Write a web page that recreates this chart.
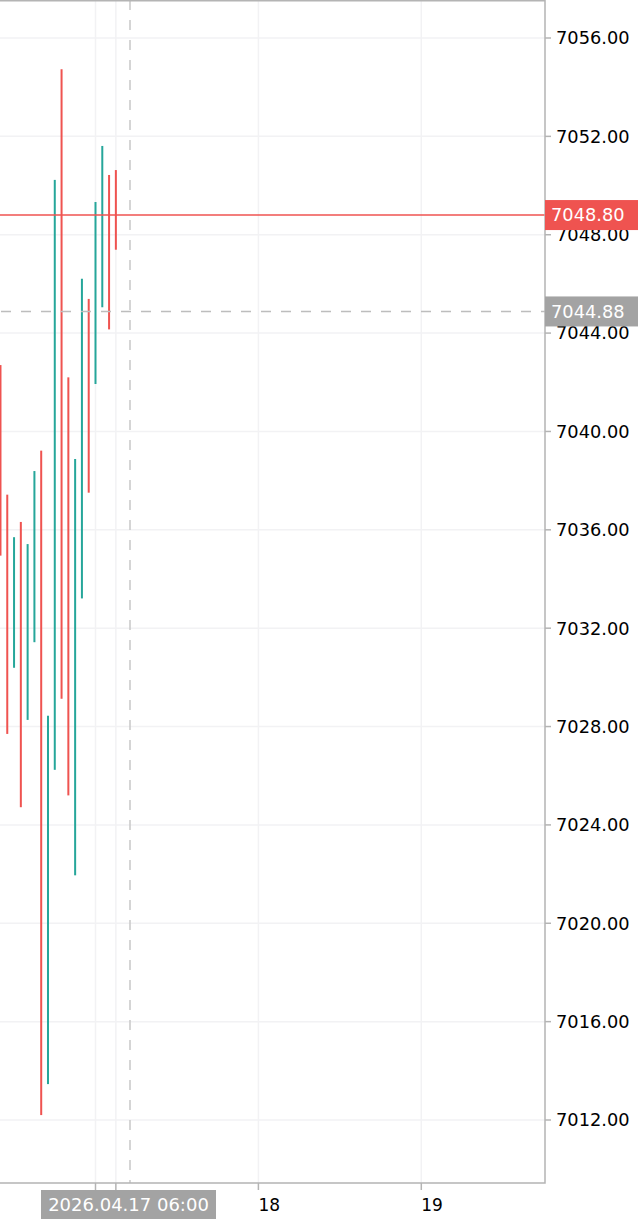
<!DOCTYPE html>
<html>
<head>
<meta charset="utf-8">
<script src="https://cdn.jsdelivr.net/npm/d3@7"></script>
<style>
  body { margin: 0; background: #fff; }
  svg { display: block; }
  text { font-family: 'DejaVu Sans', sans-serif; }
</style>
</head>
<body>
<div id="chart"></div>
<script>
// hourly bars, only the low-high range is drawn
const times = [
  '2026-04-16 10:00', '2026-04-16 11:00', '2026-04-16 12:00', '2026-04-16 13:00',
  '2026-04-16 14:00', '2026-04-16 15:00', '2026-04-16 16:00', '2026-04-16 17:00',
  '2026-04-16 18:00', '2026-04-16 19:00', '2026-04-16 20:00', '2026-04-16 21:00',
  '2026-04-16 22:00', '2026-04-16 23:00', '2026-04-17 00:00', '2026-04-17 01:00',
  '2026-04-17 02:00', '2026-04-17 03:00'
]
const highs = [7042.70, 7037.43, 7035.70, 7036.32, 7035.42, 7038.39, 7039.22, 7028.44, 7050.23,
  7054.73, 7042.20, 7038.88, 7046.21, 7045.39, 7049.33, 7051.61, 7050.43, 7050.63]
const lows = [7034.95, 7027.70, 7030.39, 7024.72, 7028.27, 7031.43, 7012.20, 7013.46, 7026.24,
  7029.13, 7025.20, 7021.95, 7033.21, 7037.51, 7041.93, 7045.05, 7044.15, 7047.39]
const dirs = ['down', 'down', 'up', 'down', 'up', 'up', 'down', 'up', 'up',
  'down', 'down', 'up', 'up', 'down', 'up', 'up', 'down', 'down']

const priceTicks = [7012, 7016, 7020, 7024, 7028, 7032, 7036, 7040, 7044, 7048, 7052, 7056]
// the first two ticks sit under the crosshair time label, so they get no text
const timeTicks = ['2026-04-17 00:00', '2026-04-17 03:00', '2026-04-18 00:00', '2026-04-19 00:00']
const timeTickLabels = ['', '', '18', '19']

const lastPrice = 7048.80
const crossPrice = 7044.88
const crossTime = '2026-04-17 05:05'
const crossTimeLabel = '2026.04.17 06:00'

const width = 640
const height = 1224
const plotRight = 545
const plotBottom = 1183

const parseTime = d3.timeParse('%Y-%m-%d %H:%M')

const xScale = d3
  .scaleTime()
  .domain([parseTime('2026-04-17 00:00'), parseTime('2026-04-19 00:00')])
  .range([95.5, 421.3])

const yScale = d3
  .scaleLinear()
  .domain([7012, 7056])
  .range([1120, 38])

const svg = d3
  .select('#chart')
  .append('svg')
  .attr('width', width)
  .attr('height', height)

svg
  .append('clipPath')
  .attr('id', 'plot-clip')
  .append('rect')
  .attr('x', 0)
  .attr('y', 0)
  .attr('width', plotRight)
  .attr('height', plotBottom)

const plot = svg.append('g').attr('clip-path', 'url(#plot-clip)')

// grid
plot
  .selectAll('.hgrid')
  .data(priceTicks)
  .enter()
  .append('line')
  .attr('class', 'hgrid')
  .attr('x1', 0)
  .attr('x2', plotRight)
  .attr('y1', d => yScale(d))
  .attr('y2', d => yScale(d))
  .attr('stroke', '#f2f2f4')
  .attr('stroke-width', 1.5)

plot
  .selectAll('.vgrid')
  .data(timeTicks)
  .enter()
  .append('line')
  .attr('class', 'vgrid')
  .attr('x1', d => xScale(parseTime(d)))
  .attr('x2', d => xScale(parseTime(d)))
  .attr('y1', 0)
  .attr('y2', plotBottom)
  .attr('stroke', '#f2f2f4')
  .attr('stroke-width', 1.5)

// bars
const bars = times.map((t, i) => ({ time: parseTime(t), high: highs[i], low: lows[i], dir: dirs[i] }))

plot
  .selectAll('.bar')
  .data(bars)
  .enter()
  .append('rect')
  .attr('class', 'bar')
  .attr('x', d => xScale(d.time) - 1)
  .attr('width', 2)
  .attr('y', d => yScale(d.high))
  .attr('height', d => yScale(d.low) - yScale(d.high))
  .attr('fill', d => (d.dir === 'up' ? '#26a69a' : '#ef5350'))

// last price line
plot
  .append('line')
  .attr('x1', 0)
  .attr('x2', plotRight)
  .attr('y1', yScale(lastPrice))
  .attr('y2', yScale(lastPrice))
  .attr('stroke', '#ef5350')
  .attr('stroke-width', 1.5)

// crosshair
const cx = xScale(parseTime(crossTime))
plot
  .append('line')
  .attr('x1', 0)
  .attr('x2', plotRight)
  .attr('y1', yScale(crossPrice))
  .attr('y2', yScale(crossPrice))
  .attr('stroke', '#bdbdbd')
  .attr('stroke-width', 1.5)
  .attr('stroke-dasharray', '10,10')
  .attr('stroke-dashoffset', -1)

plot
  .append('line')
  .attr('x1', cx)
  .attr('x2', cx)
  .attr('y1', 0)
  .attr('y2', plotBottom)
  .attr('stroke', '#c8c8c8')
  .attr('stroke-width', 1.5)
  .attr('stroke-dasharray', '10,10')

// frame
svg
  .append('path')
  .attr('d', `M0,0.75H${plotRight}V${plotBottom}H0`)
  .attr('fill', 'none')
  .attr('stroke', '#b4b4b4')
  .attr('stroke-width', 1.5)

// price axis
const yAxis = svg.append('g').attr('class', 'y-axis')
yAxis
  .selectAll('.ytick')
  .data(priceTicks)
  .enter()
  .append('line')
  .attr('x1', plotRight)
  .attr('x2', plotRight + 6)
  .attr('y1', d => yScale(d))
  .attr('y2', d => yScale(d))
  .attr('stroke', '#b4b4b4')
  .attr('stroke-width', 1.5)

yAxis
  .selectAll('.ylabel')
  .data(priceTicks)
  .enter()
  .append('text')
  .attr('x', 556)
  .attr('y', d => yScale(d))
  .attr('dy', '0.36em')
  .attr('font-size', 17.8)
  .attr('fill', '#000')
  .text(d => d.toFixed(2))

// time axis
const xAxis = svg.append('g').attr('class', 'x-axis')
xAxis
  .selectAll('.xtick')
  .data(timeTicks)
  .enter()
  .append('line')
  .attr('x1', d => xScale(parseTime(d)))
  .attr('x2', d => xScale(parseTime(d)))
  .attr('y1', plotBottom)
  .attr('y2', plotBottom + 7)
  .attr('stroke', '#b4b4b4')
  .attr('stroke-width', 1.5)

xAxis
  .selectAll('.xlabel')
  .data(timeTicks.filter((d, i) => timeTickLabels[i]))
  .enter()
  .append('text')
  .attr('x', d => xScale(parseTime(d)))
  .attr('y', 1205)
  .attr('dy', '0.36em')
  .attr('font-size', 17)
  .attr('fill', '#000')
  .text(d => timeTickLabels[timeTicks.indexOf(d)])

// price labels
function priceLabel(value, color) {
  const y = yScale(value)
  svg
    .append('rect')
    .attr('x', plotRight)
    .attr('y', y - 15)
    .attr('width', 93)
    .attr('height', 30)
    .attr('fill', color)
  svg
    .append('text')
    .attr('x', 551)
    .attr('y', y)
    .attr('dy', '0.36em')
    .attr('font-size', 17.8)
    .attr('fill', '#fff')
    .text(value.toFixed(2))
}
priceLabel(lastPrice, '#ef5350')
priceLabel(crossPrice, '#a3a3a3')

// crosshair time label
svg
  .append('rect')
  .attr('x', cx - 89)
  .attr('y', 1190)
  .attr('width', 175)
  .attr('height', 29)
  .attr('fill', '#a3a3a3')
svg
  .append('text')
  .attr('x', cx - 1.5)
  .attr('y', 1205)
  .attr('dy', '0.36em')
  .attr('text-anchor', 'middle')
  .attr('font-size', 18)
  .attr('fill', '#fff')
  .text(crossTimeLabel)
</script>
</body>
</html>
